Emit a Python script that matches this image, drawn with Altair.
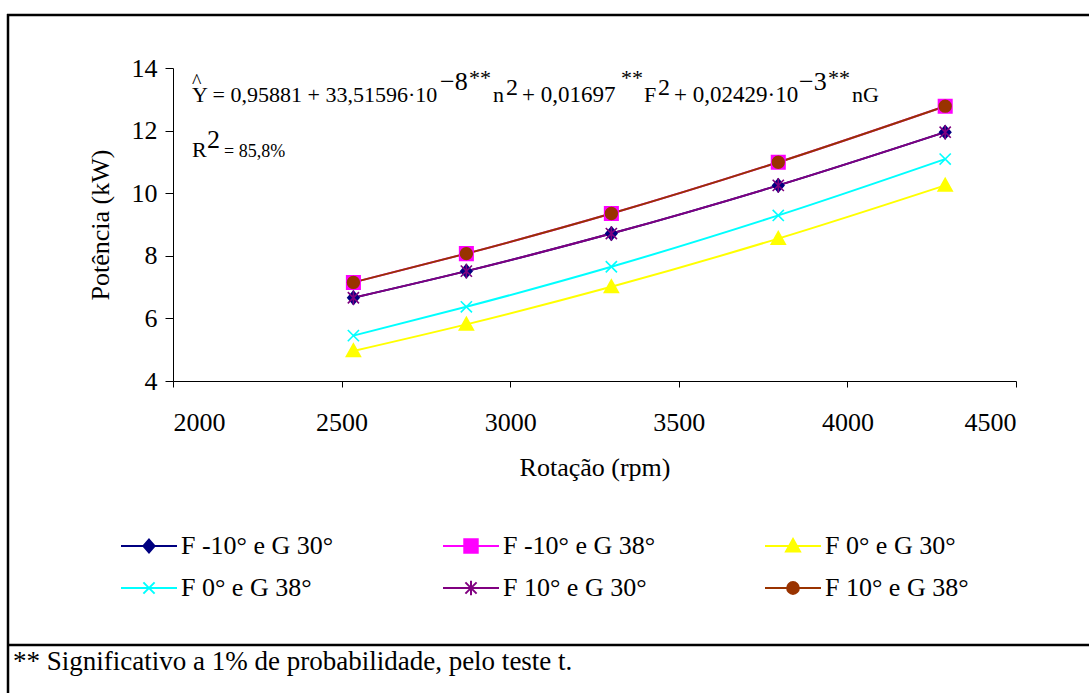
import altair as alt
import pandas as pd

# ---------------- data ----------------
rpm = [2535, 2870, 3300, 3795, 4290]
series_names = ["F -10° e G 30°", "F -10° e G 38°", "F 0° e G 30°",
                "F 0° e G 38°", "F 10° e G 30°", "F 10° e G 38°"]
pot_fm10_g30 = [6.66, 7.51, 8.71, 10.25, 11.95]
pot_fm10_g38 = [7.15, 8.07, 9.35, 10.99, 12.78]
pot_f0_g30 = [4.96, 5.81, 7.01, 8.55, 10.25]
pot_f0_g38 = [5.45, 6.37, 7.65, 9.29, 11.09]
pot_f10_g30 = [6.66, 7.51, 8.71, 10.25, 11.95]
pot_f10_g38 = [7.15, 8.07, 9.35, 10.99, 12.78]
x_ticks = [2000, 2500, 3000, 3500, 4000, 4500]
y_ticks = [4, 6, 8, 10, 12, 14]

all_series = [pot_fm10_g30, pot_fm10_g38, pot_f0_g30, pot_f0_g38, pot_f10_g30, pot_f10_g38]
rows = []
for name, vals in zip(series_names, all_series):
    for r, v in zip(rpm, vals):
        rows.append({"rpm": r, "pot": v, "serie": name})
df = pd.DataFrame(rows)

# ---------------- styles ----------------
colors = ["#000080", "#FF00FF", "#FFFF00", "#00FFFF", "#800080", "#993300"]
marker_paths = [
    "M0,-0.23L0.2,0L0,0.23L-0.2,0Z",
    "M-0.24,-0.24H0.24V0.24H-0.24Z",
    "M0,-0.25L0.25,0.2L-0.25,0.2Z",
    "M-0.2,-0.2L0.2,0.2M-0.2,0.2L0.2,-0.2",
    "M-0.2,-0.2L0.2,0.2M-0.2,0.2L0.2,-0.2M0,-0.26V0.26",
    "M0.21,0A0.21,0.21 0 1,1 -0.21,0A0.21,0.21 0 1,1 0.21,0Z",
]
legend_paths = ["M-1,0H1" + p for p in marker_paths]

# legend entries are laid out column by column: reorder so rows read like the reference
leg_order = [0, 3, 1, 4, 2, 5]
leg_domain = [series_names[i] for i in leg_order]
leg_colors = [colors[i] for i in leg_order]
leg_shapes = [legend_paths[i] for i in leg_order]

FONT = "Liberation Serif, Times New Roman, Times, serif"
W, H = 843, 313
OX, OY = 173, 68
SYM = 3136

x_enc = alt.X("rpm:Q", scale=alt.Scale(domain=[2000, 4500], nice=False, zero=False),
              axis=alt.Axis(values=x_ticks, format="d", title="Rotação (rpm)", tickSize=6,
                            labelPadding=22, titleX=W / 2, titleY=86, titleBaseline="middle",
                            titleAlign="center"))
y_enc = alt.Y("pot:Q", scale=alt.Scale(domain=[4, 14], nice=False, zero=False),
              axis=alt.Axis(values=y_ticks, format="d", title="Potência (kW)", tickSize=8,
                            labelPadding=8, titleX=-73, titleY=H / 2, titleAngle=-90,
                            titleBaseline="middle", titleAlign="center"))

lines = alt.Chart(df).mark_line(interpolate="monotone", strokeWidth=2).encode(
    x=x_enc, y=y_enc,
    color=alt.Color("serie:N", scale=alt.Scale(domain=series_names, range=colors), legend=None),
)

pts = alt.Chart(df).mark_point(size=SYM, opacity=1, strokeWidth=1.6).encode(
    x=x_enc, y=y_enc,
    shape=alt.Shape("serie:N", scale=alt.Scale(domain=series_names, range=marker_paths), legend=None),
    fill=alt.Fill("serie:N", scale=alt.Scale(domain=series_names, range=colors), legend=None),
    stroke=alt.Stroke("serie:N", scale=alt.Scale(domain=series_names, range=colors), legend=None),
)

leg_props = dict(title=None, orient="none", legendX=120 - OX, legendY=517 - OY, columns=3,
                 symbolSize=SYM, symbolStrokeWidth=2, labelFont=FONT, labelFontSize=26,
                 labelColor="black", labelOffset=3, columnPadding=105, rowPadding=0, padding=0)

leg = alt.Chart(df).transform_filter("false").mark_point(size=SYM, opacity=1, strokeWidth=2).encode(
    x=x_enc, y=y_enc,
    shape=alt.Shape("serie:N", scale=alt.Scale(domain=leg_domain, range=leg_shapes),
                    legend=alt.Legend(**leg_props)),
    fill=alt.Fill("serie:N", scale=alt.Scale(domain=leg_domain, range=leg_colors),
                  legend=alt.Legend(**leg_props)),
    stroke=alt.Stroke("serie:N", scale=alt.Scale(domain=leg_domain, range=leg_colors),
                      legend=alt.Legend(**leg_props)),
)


def txt(s, x, y, size, align="left", baseline="alphabetic"):
    return alt.Chart(alt.Data(values=[{}])).mark_text(
        text=s, fontSize=size, font=FONT, align=align, baseline=baseline, color="black"
    ).encode(x=alt.value(x - OX), y=alt.value(y - OY))


def rule(x1, y1, x2, y2, w=2.5):
    return alt.Chart(alt.Data(values=[{}])).mark_rule(strokeWidth=w, color="black").encode(
        x=alt.value(x1 - OX), x2=alt.value(x2 - OX), y=alt.value(y1 - OY), y2=alt.value(y2 - OY))


B = 22     # equation base size
S = 26     # superscript size
annotations = [
    txt("^", 192, 88, 20),
    txt("Y = 0,95881 + 33,51596·10", 192, 102, B),
    txt("−8", 440, 90, S),
    txt("**", 469, 85, B),
    txt("n", 493, 102, B),
    txt("2", 506, 95, 24),
    txt("+ 0,01697", 522, 102, 23),
    txt("**", 621, 85, B),
    txt("F", 644, 102, B),
    txt("2", 658, 95, 24),
    txt("+ 0,02429·10", 674, 102, 23),
    txt("−3", 799, 90, S),
    txt("**", 828, 85, B),
    txt("nG", 852, 102, B),
    txt("R", 192, 157, B),
    txt("2", 207, 148, S),
    txt("= 85,8%", 224, 157, 18),
    txt("** Significativo a 1% de probabilidade, pelo teste t.", 13, 670, 27),
    rule(7, 15, 1100, 15),
    rule(8, 14, 8, 700),
    rule(7, 645, 1100, 645),
]

chart = alt.layer(lines, pts, leg, *annotations).resolve_scale(
    shape="independent", fill="independent", stroke="independent"
).properties(
    width=W, height=H,
    autosize=alt.AutoSizeParams(type="none"),
    padding={"left": OX, "top": OY, "right": 1089 - OX - W, "bottom": 693 - OY - H},
).configure(font=FONT).configure_view(stroke=None).configure_axis(
    labelFont=FONT, labelFontSize=26, labelColor="black", titleFont=FONT, titleFontSize=26,
    titleFontWeight="normal", titleColor="black", domainColor="black", tickColor="black",
    grid=False, domainWidth=1, tickWidth=1,
)

chart.save("out.html", embed_options={"renderer": "svg", "actions": False})
